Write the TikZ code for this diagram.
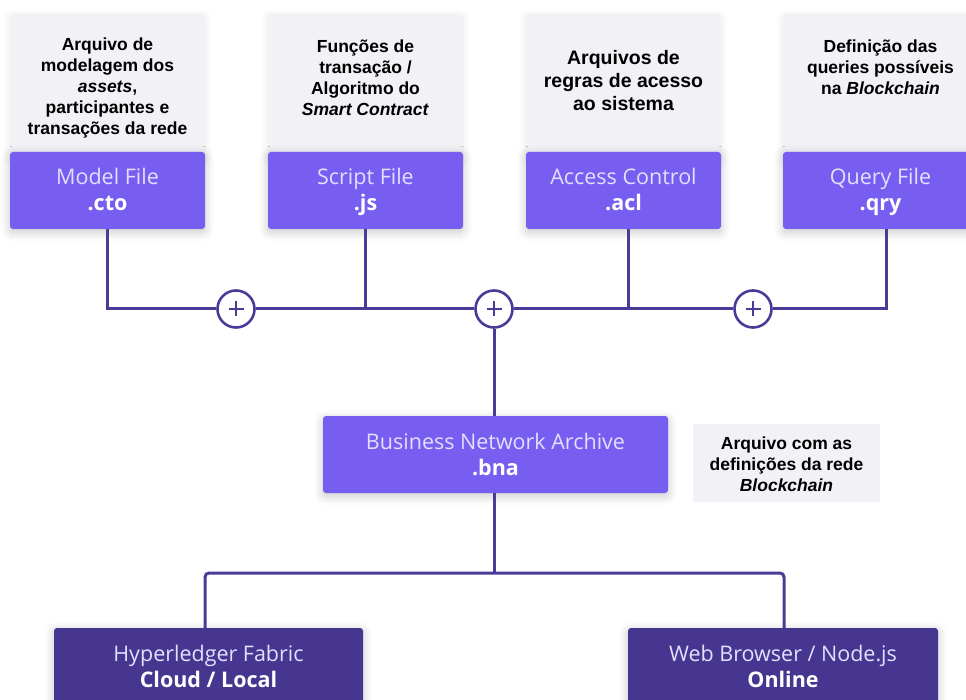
\documentclass[tikz,border=0pt]{standalone}
\usepackage{fontspec}
\setmainfont{Liberation Sans}
\newfontfamily\osans{Open Sans}
\usetikzlibrary{shadows.blur}

\definecolor{boxviolet}{HTML}{785EF0}
\definecolor{deepviolet}{HTML}{46368F}
\definecolor{linkviolet}{HTML}{4B3B98}
\definecolor{panelgray}{HTML}{F1F1F6}
\definecolor{softtext}{HTML}{E4DEFF}

\tikzset{
  softshadow/.style={blur shadow={shadow xshift=0pt, shadow yshift=-3pt,
      shadow blur radius=9pt, shadow opacity=22}},
  filebox/.style={fill=boxviolet, rounded corners=3pt, inner sep=0pt,
      minimum width=195pt, minimum height=77pt, align=center, text=softtext,
      font=\osans\fontsize{21.5}{24}\selectfont, softshadow},
  targetbox/.style={filebox, fill=deepviolet, minimum height=78pt},
  panel/.style={fill=panelgray, rounded corners=3pt, inner sep=0pt,
      minimum width=195pt, minimum height=146pt,
      blur shadow={shadow xshift=0pt, shadow yshift=-2pt,
      shadow blur radius=7pt, shadow opacity=10}},
  note/.style={align=center, inner sep=0pt, text=black,
      font=\bfseries\fontsize{17.5}{21}\selectfont},
  link/.style={draw=linkviolet, line width=3pt},
  joiner/.style={circle, draw=linkviolet, line width=2.6pt, fill=white,
      minimum size=37pt, inner sep=0pt},
}

% uniform line boxes so every two-line label sits at the same baselines
\newcommand{\lstrut}{\rule[-5pt]{0pt}{25pt}}
\newcommand{\sfx}[1]{\lstrut\textbf{\color{white}#1}}

\begin{document}
\begin{tikzpicture}[x=1pt, y=-1pt]
\useasboundingbox (0,0) rectangle (966,700);

% description panels behind the file boxes
\node[panel] (pan1) at (107.5,87) {};
\node[panel] (pan2) at (365.5,87) {};
\node[panel] (pan3) at (623.5,87) {};
\node[panel] (pan4) at (880.5,87) {};

\node[note] (n1) at (107.5,88)
  {Arquivo de\\modelagem dos\\\textit{assets},\\participantes e\\transações da rede};
\node[note] (n2) at (365.5,77.5)
  {Funções de\\transação /\\Algoritmo do\\\textit{Smart Contract}};
\node[note, font=\bfseries\fontsize{19.5}{23.3}\selectfont] (n3) at (623.5,80.5)
  {Arquivos de\\regras de acesso\\ao sistema};
\node[note] (n4) at (880.5,67)
  {Definição das\\queries possíveis\\na \textit{Blockchain}};

% file boxes
\node[filebox] (model)  at (107.5,190.5) {\lstrut Model File\\\sfx{.cto}};
\node[filebox] (script) at (365.5,190.5) {\lstrut Script File\\\sfx{.js}};
\node[filebox] (acl)    at (623.5,190.5) {\lstrut Access Control\\\sfx{.acl}};
\node[filebox] (qry)    at (880.5,190.5) {\lstrut Query File\\\sfx{.qry}};

% joining points
\node[joiner] (p1) at (236,309) {};
\node[joiner] (p2) at (494,309) {};
\node[joiner] (p3) at (753,309) {};
\foreach \p in {p1,p2,p3}{
  \draw[linkviolet, line width=2.4pt] ([xshift=-7.5pt]\p.center) -- ([xshift=7.5pt]\p.center);
  \draw[linkviolet, line width=2.4pt] ([yshift=-7.5pt]\p.center) -- ([yshift=7.5pt]\p.center);
}

% archive and its note
\node[filebox, minimum width=345pt] (bna) at (495.5,454.5)
  {\lstrut Business Network Archive\\\sfx{.bna}};
\node[fill=panelgray, minimum width=187pt, minimum height=78pt, inner sep=0pt] (bnanote)
  at (786.5,463) {};
\node[note] (n5) at (786.5,464.5)
  {Arquivo com as\\definições da rede\\\textit{Blockchain}};

% deployment targets
\node[targetbox, minimum width=309pt] (fabric) at (208.5,667)
  {\lstrut Hyperledger Fabric\\\sfx{Cloud / Local}};
\node[targetbox, minimum width=310pt] (web) at (783,667)
  {\lstrut Web Browser / Node.js\\\sfx{Online}};

% connectors
\draw[link] ([xshift=-0.5pt]model.south) |- (p1.west);
\draw[link] (p1.east) -- (p2.west);
\draw[link] (script.south) -- (script.south |- p1.center);
\draw[link] (p2.east) -- (p3.west);
\draw[link] ([xshift=4.5pt]acl.south) -- ([xshift=4.5pt]acl.south |- p3.center);
\draw[link] (p3.east) -| ([xshift=5.5pt]qry.south);
\draw[link] (p2.south) -- (bna.north -| p2.south);

\coordinate (split) at (494,573);
\draw[link] (bna.south -| split) -- (split);
\draw[link, rounded corners=4pt] ([xshift=-3.5pt]fabric.north) |- (split) -| ([xshift=1pt]web.north);
\end{tikzpicture}
\end{document}
